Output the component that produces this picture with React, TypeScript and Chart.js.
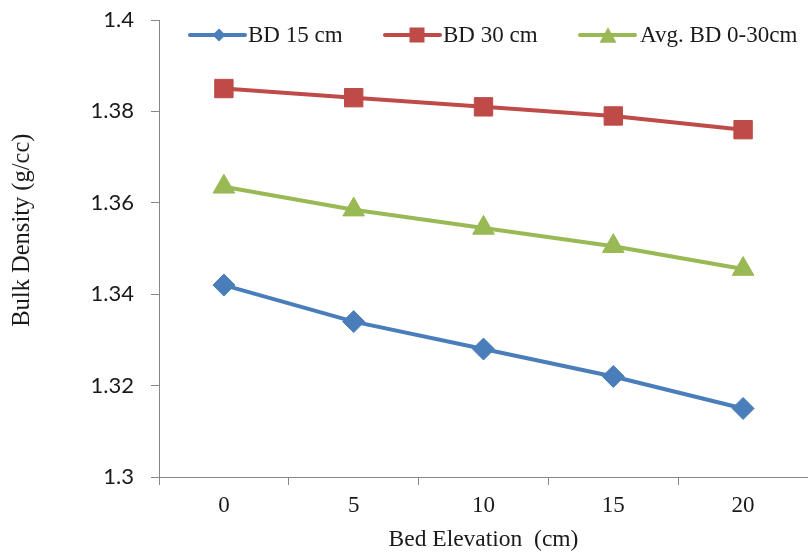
import React, { useEffect, useRef } from 'react';
import { Chart, registerables } from 'chart.js';

Chart.register(...registerables);

const categories = ['0', '5', '10', '15', '20'];
const bd15 = [1.342, 1.334, 1.328, 1.322, 1.315];
const bd30 = [1.385, 1.383, 1.381, 1.379, 1.376];
const avgBd = [1.3635, 1.3585, 1.3545, 1.3505, 1.3455];
const yTickValues = [1.3, 1.32, 1.34, 1.36, 1.38, 1.4];
const yTickLabels = ['1.3', '1.32', '1.34', '1.36', '1.38', '1.4'];
const seriesNames = ['BD 15 cm', 'BD 30 cm', 'Avg. BD 0-30cm'];
const xTitle = 'Bed Elevation  (cm)';
const yTitle = '      Bulk Density (g/cc)';

const COLORS = ['#4A7EBB', '#BE4B48', '#98B954'];
const AXIS = '#868686';
const TEXT = '#1a1a1a';
const SERIF = '"Liberation Serif", "Times New Roman", serif';
const SANS = 'Lato, "Open Sans", sans-serif';

function drawMarker(ctx: CanvasRenderingContext2D, kind: string, x: number, y: number, r: number) {
  ctx.beginPath();
  if (kind === 'diamond') {
    ctx.moveTo(x - r, y);
    ctx.lineTo(x, y - r);
    ctx.lineTo(x + r, y);
    ctx.lineTo(x, y + r);
  } else if (kind === 'square') {
    ctx.rect(x - r, y - r, 2 * r, 2 * r);
  } else {
    const h = r * 1.8;
    ctx.moveTo(x, y - h / 2);
    ctx.lineTo(x + r, y + h / 2);
    ctx.lineTo(x - r, y + h / 2);
  }
  ctx.closePath();
  ctx.fill();
}

const legendPlugin = {
  id: 'excelLegend',
  afterDraw(chart: any) {
    const ctx: CanvasRenderingContext2D = chart.ctx;
    const y = 35;
    const items = [
      { x0: 190, x1: 245, mx: 219, tx: 248, kind: 'diamond', r: 6.5 },
      { x0: 385, x1: 440, mx: 417, tx: 443, kind: 'square', r: 7.5 },
      { x0: 580, x1: 635, mx: 608, tx: 640, kind: 'triangle', r: 8.5 },
    ];
    ctx.save();
    items.forEach((it, i) => {
      ctx.strokeStyle = COLORS[i];
      ctx.fillStyle = COLORS[i];
      ctx.lineWidth = 4;
      ctx.lineCap = 'round';
      ctx.beginPath();
      ctx.moveTo(it.x0, y);
      ctx.lineTo(it.x1, y);
      ctx.stroke();
      drawMarker(ctx, it.kind, it.mx, y, it.r);
      ctx.fillStyle = TEXT;
      ctx.font = `23px ${SERIF}`;
      ctx.textBaseline = 'middle';
      ctx.textAlign = 'left';
      ctx.fillText(seriesNames[i], it.tx, y + 1);
    });
    ctx.restore();
  },
};

export default function App() {
  const canvasRef = useRef<HTMLCanvasElement | null>(null);

  useEffect(() => {
    if (!canvasRef.current) return;
    const mk = (label: string, data: number[], color: string, style: string, radius: number) => ({
      label,
      data,
      borderColor: color,
      backgroundColor: color,
      borderWidth: 4,
      pointStyle: style,
      pointRadius: radius,
      pointBackgroundColor: color,
      pointBorderColor: color,
      pointBorderWidth: 1,
      tension: 0,
      fill: false,
      clip: false,
    });
    const chart = new Chart(canvasRef.current, {
      type: 'line',
      data: {
        labels: categories,
        datasets: [
          mk(seriesNames[0], bd15, COLORS[0], 'rectRot', 11),
          mk(seriesNames[1], bd30, COLORS[1], 'rect', 13),
          mk(seriesNames[2], avgBd, COLORS[2], 'triangle', 12.5),
        ],
      },
      options: {
        responsive: false,
        animation: false,
        devicePixelRatio: 1,
        layout: { autoPadding: false, padding: { top: 20, right: 0, left: 0, bottom: 0 } },
        plugins: {
          legend: { display: false },
          tooltip: { enabled: false },
        },
        scales: {
          x: {
            type: 'category',
            offset: true,
            afterFit: (scale: any) => {
              scale.height = 76;
              scale.paddingLeft = 0;
              scale.paddingRight = 0;
            },
            grid: {
              display: true,
              offset: true,
              drawOnChartArea: false,
              drawTicks: true,
              tickLength: 8,
              color: AXIS,
              lineWidth: 1,
            },
            border: { display: true, color: AXIS, width: 1 },
            ticks: {
              color: TEXT,
              font: { family: SERIF, size: 23 },
              padding: 7,
              maxRotation: 0,
            },
            title: {
              display: true,
              text: xTitle,
              color: TEXT,
              font: { family: SERIF, size: 23.5, lineHeight: 1 },
              padding: { top: 0, bottom: 1 },
            },
          },
          y: {
            type: 'linear',
            min: 1.3,
            max: 1.4,
            afterFit: (scale: any) => {
              scale.width = 159;
              scale.paddingTop = 0;
              scale.paddingBottom = 0;
            },
            afterBuildTicks: (scale: any) => {
              scale.ticks = yTickValues.map((v) => ({ value: v }));
            },
            grid: {
              display: true,
              drawOnChartArea: false,
              drawTicks: true,
              tickLength: 8,
              color: AXIS,
              lineWidth: 1,
            },
            border: { display: true, color: AXIS, width: 1 },
            ticks: {
              color: TEXT,
              font: { family: SANS, size: 22 },
              padding: 17,
              callback: (_v: any, i: number) => yTickLabels[i],
            },
            title: {
              display: true,
              text: yTitle,
              color: TEXT,
              font: { family: SERIF, size: 24.5 },
              padding: { top: 8, bottom: 0 },
            },
          },
        },
      },
      plugins: [legendPlugin],
    } as any);
    return () => chart.destroy();
  }, []);

  return (
    <div style={{ position: 'absolute', left: 0, top: 0, width: 808, height: 553, background: '#fff' }}>
      <canvas ref={canvasRef} width={808} height={553} style={{ display: 'block' }} />
    </div>
  );
}
